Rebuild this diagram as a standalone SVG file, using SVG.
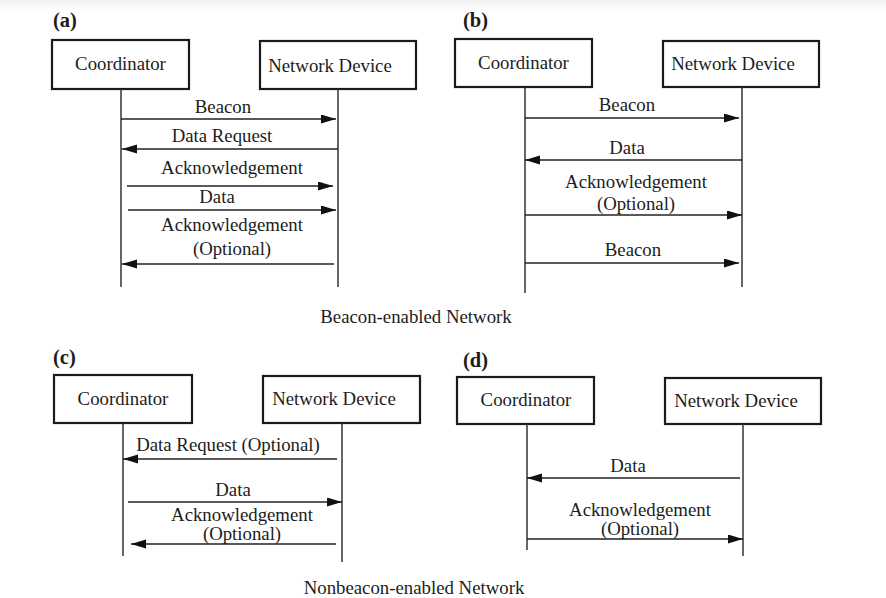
<svg xmlns="http://www.w3.org/2000/svg" width="886" height="598" viewBox="0 0 886 598">
  <style>
    text { font-family: "Liberation Serif", "Times New Roman", serif; fill: #1c1c1c; }
    .t { font-size: 18.8px; text-anchor: middle; }
    .cap { font-size: 20.5px; font-weight: bold; }
    .box { fill: #ffffff; stroke: #1a1a1a; stroke-width: 2.2; }
    .life { stroke: #333333; stroke-width: 1.5; fill: none; }
    .msg { stroke: #222222; stroke-width: 1.5; fill: none; marker-end: url(#head); }
  </style>
  <defs>
    <marker id="head" markerUnits="userSpaceOnUse" markerWidth="16" markerHeight="10" refX="15" refY="4.5" orient="auto">
      <path d="M0,0 L15,4.5 L0,9 z" fill="#111111"/>
    </marker>
    <linearGradient id="topfade" x1="0" y1="0" x2="0" y2="1">
      <stop offset="0" stop-color="#f2f2f2"/>
      <stop offset="1" stop-color="#ffffff"/>
    </linearGradient>
  </defs>

  <rect x="0" y="0" width="886" height="598" fill="#ffffff"/>
  <rect x="0" y="0" width="886" height="11" fill="url(#topfade)"/>

  <!-- (a) beacon-enabled, data request from device -->
  <g id="panel-a">
    <text class="cap" x="53" y="27">(a)</text>
    <g id="a-coordinator">
      <rect class="box" x="52" y="40" width="137" height="49"/>
      <text class="t" x="120.5" y="70">Coordinator</text>
      <line class="life" x1="121" y1="89" x2="121" y2="287"/>
    </g>
    <g id="a-device">
      <rect class="box" x="260" y="41" width="156" height="48"/>
      <text class="t" x="330" y="72">Network Device</text>
      <line class="life" x1="338" y1="89" x2="338" y2="287"/>
    </g>
    <g id="a-messages">
      <line class="msg" x1="121" y1="119" x2="336" y2="119"/>
      <text class="t" x="223" y="113">Beacon</text>
      <line class="msg" x1="338" y1="149" x2="122" y2="149"/>
      <text class="t" x="222" y="142">Data Request</text>
      <line class="msg" x1="127" y1="186" x2="333" y2="186"/>
      <text class="t" x="232" y="174">Acknowledgement</text>
      <line class="msg" x1="128" y1="210" x2="336" y2="210"/>
      <text class="t" x="217" y="203">Data</text>
      <line class="msg" x1="334" y1="264" x2="122" y2="264"/>
      <text class="t" x="232" y="231">Acknowledgement</text>
      <text class="t" x="232" y="255">(Optional)</text>
    </g>
  </g>

  <!-- (b) beacon-enabled, data from device -->
  <g id="panel-b">
    <text class="cap" x="463" y="27">(b)</text>
    <g id="b-coordinator">
      <rect class="box" x="455" y="39" width="137" height="48"/>
      <text class="t" x="523.5" y="69">Coordinator</text>
      <line class="life" x1="525" y1="87" x2="525" y2="293"/>
    </g>
    <g id="b-device">
      <rect class="box" x="663" y="41" width="156" height="46"/>
      <text class="t" x="733" y="70">Network Device</text>
      <line class="life" x1="742" y1="87" x2="742" y2="287"/>
    </g>
    <g id="b-messages">
      <line class="msg" x1="525" y1="118" x2="739" y2="118"/>
      <text class="t" x="627" y="111">Beacon</text>
      <line class="msg" x1="742" y1="160" x2="525" y2="160"/>
      <text class="t" x="627" y="154">Data</text>
      <line class="msg" x1="525" y1="215" x2="742" y2="215"/>
      <text class="t" x="636" y="188">Acknowledgement</text>
      <text class="t" x="636" y="210">(Optional)</text>
      <line class="msg" x1="525" y1="263" x2="739" y2="263"/>
      <text class="t" x="633" y="256">Beacon</text>
    </g>
  </g>

  <text class="t" x="416" y="323">Beacon-enabled Network</text>

  <!-- (c) nonbeacon-enabled, data to coordinator -->
  <g id="panel-c">
    <text class="cap" x="53" y="364">(c)</text>
    <g id="c-coordinator">
      <rect class="box" x="54" y="375" width="138" height="48"/>
      <text class="t" x="123" y="405">Coordinator</text>
      <line class="life" x1="123" y1="423" x2="123" y2="556"/>
    </g>
    <g id="c-device">
      <rect class="box" x="263" y="376" width="157" height="47"/>
      <text class="t" x="334" y="405">Network Device</text>
      <line class="life" x1="342" y1="423" x2="342" y2="562"/>
    </g>
    <g id="c-messages">
      <line class="msg" x1="337" y1="459" x2="123" y2="459"/>
      <text class="t" x="228" y="451">Data Request (Optional)</text>
      <line class="msg" x1="128" y1="502" x2="342" y2="502"/>
      <text class="t" x="233" y="496">Data</text>
      <line class="msg" x1="336" y1="544" x2="131" y2="544"/>
      <text class="t" x="242" y="521">Acknowledgement</text>
      <text class="t" x="242" y="540">(Optional)</text>
    </g>
  </g>

  <!-- (d) nonbeacon-enabled, data from device -->
  <g id="panel-d">
    <text class="cap" x="463" y="367">(d)</text>
    <g id="d-coordinator">
      <rect class="box" x="457" y="377" width="137" height="47"/>
      <text class="t" x="526" y="406">Coordinator</text>
      <line class="life" x1="527" y1="424" x2="527" y2="550"/>
    </g>
    <g id="d-device">
      <rect class="box" x="665" y="378" width="156" height="46"/>
      <text class="t" x="736" y="407">Network Device</text>
      <line class="life" x1="743" y1="424" x2="743" y2="556"/>
    </g>
    <g id="d-messages">
      <line class="msg" x1="740" y1="478" x2="527" y2="478"/>
      <text class="t" x="628" y="472">Data</text>
      <line class="msg" x1="527" y1="539" x2="743" y2="539"/>
      <text class="t" x="640" y="516">Acknowledgement</text>
      <text class="t" x="640" y="535">(Optional)</text>
    </g>
  </g>

  <text class="t" x="414" y="594">Nonbeacon-enabled Network</text>
</svg>
